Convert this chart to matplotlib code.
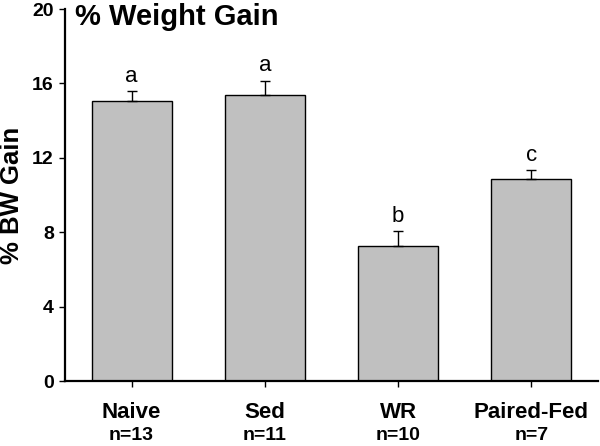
import matplotlib
matplotlib.use("Agg")
import matplotlib.pyplot as plt

plt.rcParams['font.family'] = ['Liberation Sans', 'DejaVu Sans']

groups = ["Naive", "Sed", "WR", "Paired-Fed"]
n_labels = ["n=13", "n=11", "n=10", "n=7"]
means = [15.04, 15.36, 7.26, 10.84]
sems = [0.55, 0.79, 0.82, 0.49]
letters = ["a", "a", "b", "c"]
yticks = [0, 4, 8, 12, 16, 20]

fig = plt.figure(figsize=(6.0, 4.46), dpi=100)
ax = fig.add_axes([0.1083, 0.1457, 0.8884, 0.8341])

x = list(range(len(groups)))
ax.bar(x, means, width=0.6, color="#c0c0c0", edgecolor="black", linewidth=1.0, zorder=2)
ax.errorbar(x, means, yerr=[[0]*len(sems), sems], fmt="none", ecolor="black",
            elinewidth=1.0, capsize=3.6, capthick=1.0, zorder=3)

for xi, m, s, l in zip(x, means, sems, letters):
    ax.annotate(l, xy=(xi, m + s), xytext=(0, 3), textcoords="offset points",
                ha="center", va="bottom", fontsize=16)

ax.set_xlim(-0.5, 3.5)
ax.set_ylim(0, 20)
ax.set_yticks(yticks)
ax.set_yticklabels([str(t) for t in yticks], fontsize=14, fontweight="bold")
ax.set_xticks(x)
ax.set_xticklabels([])
ax.tick_params(axis="both", direction="out", length=4, width=1.0)
ax.tick_params(axis="y", pad=4)

for xi, g, nl in zip(x, groups, n_labels):
    ax.annotate(g, xy=(xi, 0), xycoords=("data", "axes fraction"),
                xytext=(0, -31 * 0.72), textcoords="offset points",
                ha="center", va="center", fontsize=16, fontweight="bold")
    ax.annotate(nl, xy=(xi, 0), xycoords=("data", "axes fraction"),
                xytext=(0, -54 * 0.72), textcoords="offset points",
                ha="center", va="center", fontsize=14, fontweight="bold")

ax.spines["top"].set_visible(False)
ax.spines["right"].set_visible(False)
ax.spines["left"].set_linewidth(1.6)
ax.spines["bottom"].set_linewidth(1.6)

ax.set_ylabel("% BW Gain", fontsize=18.5, fontweight="bold")
ax.yaxis.set_label_coords(-0.077, 0.5)

fig.text(75 / 600, 1 - 17 / 446, "% Weight Gain", fontsize=21, fontweight="bold",
         ha="left", va="center")

fig.savefig("out.png", dpi=100)
